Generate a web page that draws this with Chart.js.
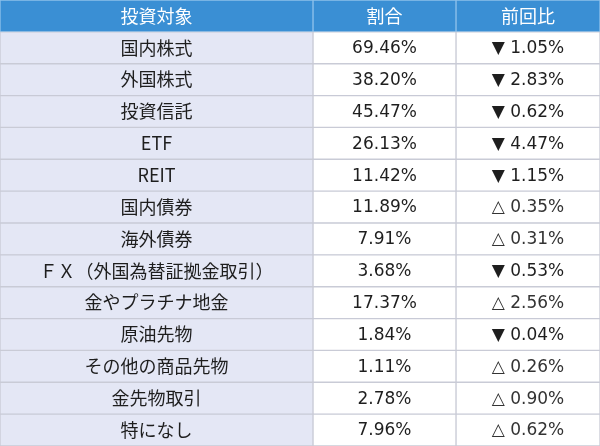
<!DOCTYPE html>
<html><head><meta charset="utf-8">
<script src="https://cdn.jsdelivr.net/npm/chart.js@4"></script>
<style>html,body{margin:0;padding:0;background:#fff}#w{width:600px;height:446px}</style>
</head><body><div id="w"><canvas id="c"></canvas></div>
<script>
const headers = ["投資対象", "割合", "前回比"];
const categories = ["国内株式","外国株式","投資信託","ETF","REIT","国内債券","海外債券","ＦＸ（外国為替証拠金取引）","金やプラチナ地金","原油先物","その他の商品先物","金先物取引","特になし"];
const shares = [69.46,38.20,45.47,26.13,11.42,11.89,7.91,3.68,17.37,1.84,1.11,2.78,7.96];
const changes = [-1.05,-2.83,-0.62,-4.47,-1.15,0.35,0.31,-0.53,2.56,-0.04,0.26,0.90,0.62];
const colEdges = [0, 313, 456, 600];

const rows = ["__header", ...categories];
const nR = rows.length;
const CJK = '"Noto Sans CJK JP", "Noto Sans", sans-serif';
const NUM = '"DejaVu Sans", "Noto Sans CJK JP", sans-serif';
function colDs(ci, body){
  return {
    data: rows.map(()=>[colEdges[ci], colEdges[ci+1]]),
    backgroundColor: rows.map((r,i)=> i===0 ? '#3a8fd4' : body),
    borderColor: rows.map((r,i)=> i===0 ? '#8ec0ea' : '#c9cbd6'),
    borderWidth: 1, borderSkipped: false,
    categoryPercentage: 1, barPercentage: 1, grouped: false
  };
}
const textPlugin = {
  id:'txt',
  afterDatasetsDraw(chart){
    const ctx = chart.ctx, x = chart.scales.x, y = chart.scales.y;
    ctx.save(); ctx.textAlign='center'; ctx.textBaseline='middle';
    const cx = i => (x.getPixelForValue(colEdges[i]) + x.getPixelForValue(colEdges[i+1]))/2;
    for(let r=0;r<nR;r++){
      const py = y.getPixelForValue(r);
      if(r===0){
        ctx.fillStyle='#ffffff'; ctx.font='18px '+CJK;
        headers.forEach((t,i)=>ctx.fillText(t, cx(i), py));
        continue;
      }
      ctx.fillStyle='#1e1e1e';
      const c = changes[r-1];
      ctx.font='18px '+CJK;
      ctx.fillText(categories[r-1], cx(0), py);
      ctx.font='17px '+NUM;
      ctx.fillText(shares[r-1].toFixed(2)+'%', cx(1), py+1);
      ctx.fillStyle = c<0 ? '#1e1e1e' : '#333333';
      ctx.fillText((c<0?'▼ ':'△ ')+Math.abs(c).toFixed(2)+'%', cx(2), py+1);
    }
    ctx.restore();
  }
};
new Chart(document.getElementById('c'), {
  type:'bar',
  data:{ labels: rows, datasets:[colDs(0,'#e4e7f5'), colDs(1,'#ffffff'), colDs(2,'#ffffff')] },
  options:{
    indexAxis:'y', responsive:true, maintainAspectRatio:false, animation:false,
    layout:{padding:0},
    plugins:{legend:{display:false}, tooltip:{enabled:false}},
    scales:{
      x:{type:'linear', min:0, max:600, display:false},
      y:{type:'category', display:false, offset:true}
    }
  },
  plugins:[textPlugin]
});
</script></body></html>
